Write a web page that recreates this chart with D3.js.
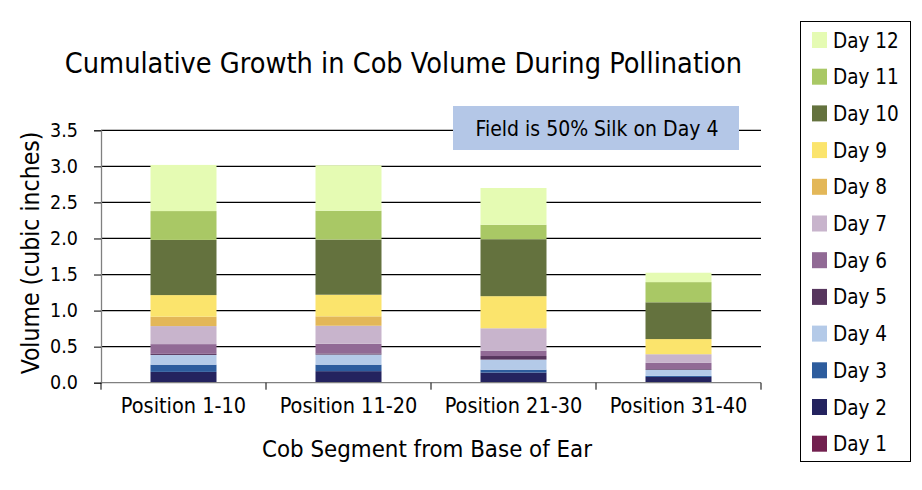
<!DOCTYPE html>
<html><head><meta charset="utf-8">
<script src="https://cdn.jsdelivr.net/npm/d3@7"></script>
<style>
body{margin:0;background:#fff;}
text{font-family:'DejaVu Sans',sans-serif;font-stretch:condensed;fill:#000;}
</style></head>
<body><svg id="chart" width="922" height="490"></svg>
<script>
const categories = ["Position 1-10","Position 11-20","Position 21-30","Position 31-40"];
const seriesNames = ["Day 1","Day 2","Day 3","Day 4","Day 5","Day 6","Day 7","Day 8","Day 9","Day 10","Day 11","Day 12"];
const day1  = [0, 0, 0, 0];
const day2  = [0.15, 0.16, 0.14, 0.08];
const day3  = [0.10, 0.09, 0.04, 0.015];
const day4  = [0.135, 0.14, 0.14, 0.085];
const day5  = [0.015, 0.015, 0.05, 0.01];
const day6  = [0.135, 0.135, 0.075, 0.085];
const day7  = [0.25, 0.25, 0.31, 0.12];
const day8  = [0.13, 0.13, 0, 0];
const day9  = [0.30, 0.30, 0.445, 0.21];
const day10 = [0.765, 0.765, 0.79, 0.51];
const day11 = [0.40, 0.40, 0.20, 0.28];
const day12 = [0.64, 0.63, 0.51, 0.13];
const yTicks = [0, 0.5, 1.0, 1.5, 2.0, 2.5, 3.0, 3.5];
const colors = ["#72204f","#24235f","#2d5c9d","#b4cae8","#57365e","#916a95","#c8b4cc","#e3b758","#fbe46c","#64723e","#a9c865","#e5fbb3"];
const titleText = "Cumulative Growth in Cob Volume During Pollination";
const xTitle = "Cob Segment from Base of Ear";
const yTitle = "Volume (cubic inches)";
const noteText = "Field is 50% Silk on Day 4";

const seriesValues = [day1,day2,day3,day4,day5,day6,day7,day8,day9,day10,day11,day12];
const rows = categories.map((c,i)=>{const r={cat:c}; seriesNames.forEach((s,j)=>r[s]=seriesValues[j][i]); return r;});
const stacked = d3.stack().keys(seriesNames)(rows);

const svg = d3.select("#chart");
const pLeft=101, pRight=761, pTop=130.3, pBottom=382.7;
const x = d3.scaleBand().domain(categories).range([pLeft,pRight]).paddingInner(0.6).paddingOuter(0.3);
const y = d3.scaleLinear().domain([0,3.5]).range([pBottom,pTop]);

// gridlines
svg.append("g").selectAll("line").data(yTicks.filter(t=>t>0)).join("line")
  .attr("x1",pLeft).attr("x2",pRight).attr("y1",d=>y(d)).attr("y2",d=>y(d))
  .attr("stroke","#000").attr("stroke-width",1.3);

// bars
svg.append("g").selectAll("g").data(stacked).join("g")
  .attr("fill",(d,i)=>colors[i])
  .selectAll("rect").data(d=>d).join("rect")
  .attr("x",d=>x(d.data.cat)).attr("width",x.bandwidth())
  .attr("y",d=>y(d[1])).attr("height",d=>Math.max(0,y(d[0])-y(d[1])));

// y axis
const yAxis = svg.append("g").attr("transform",`translate(${pLeft},0)`)
  .call(d3.axisLeft(y).tickValues(yTicks).tickFormat(d3.format(".1f")).tickSize(7).tickPadding(16));
yAxis.select(".domain").attr("stroke","#808080").attr("stroke-width",1.3);
yAxis.selectAll(".tick line").attr("stroke","#000");
yAxis.selectAll("text").style("font-size","19.5px").attr("fill","#000");

// x axis
const xAxisG = svg.append("g").attr("transform",`translate(0,${pBottom})`);
xAxisG.append("line").attr("x1",pLeft).attr("x2",pRight).attr("stroke","#808080").attr("stroke-width",1.3);
const step = x.step();
xAxisG.selectAll("line.t").data(d3.range(categories.length+1)).join("line").attr("class","t")
  .attr("x1",i=>pLeft+i*step).attr("x2",i=>pLeft+i*step).attr("y1",0).attr("y2",7)
  .attr("stroke","#000");
xAxisG.selectAll("text").data(categories).join("text")
  .attr("x",d=>x(d)+x.bandwidth()/2).attr("y",30.8).attr("text-anchor","middle")
  .style("font-size","21.5px").text(d=>d);

// titles
svg.append("text").attr("x",403.5).attr("y",72.7).attr("text-anchor","middle").style("font-size","28.6px").text(titleText);
svg.append("text").attr("x",427).attr("y",457).attr("text-anchor","middle").style("font-size","23.8px").text(xTitle);
svg.append("text").attr("transform",`translate(39,253) rotate(-90)`).attr("text-anchor","middle").style("font-size","24.5px").text(yTitle);

// note box
svg.append("rect").attr("x",453).attr("y",106).attr("width",286).attr("height",44).attr("fill","#b4c7e7");
svg.append("text").attr("x",597).attr("y",135.5).attr("text-anchor","middle").style("font-size","21px").text(noteText);

// legend
const lg = svg.append("g");
lg.append("rect").attr("x",800.5).attr("y",21.5).attr("width",110).attr("height",440).attr("fill","#fff").attr("stroke","#000");
const legendOrder = seriesNames.slice().reverse();
legendOrder.forEach((s,k)=>{
  const cy = 40 + k*36.7;
  const idx = seriesNames.indexOf(s);
  lg.append("rect").attr("x",812).attr("y",cy-8).attr("width",15).attr("height",16).attr("fill",colors[idx]);
  lg.append("text").attr("x",833).attr("y",cy+7.5).style("font-size","20.5px").text(s);
});
</script></body></html>
